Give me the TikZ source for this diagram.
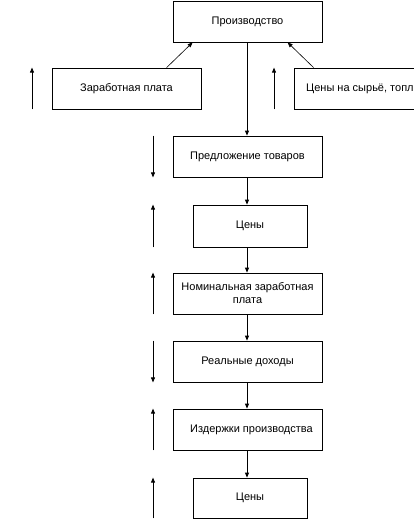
\documentclass[tikz,border=0pt]{standalone}
\usepackage{fontspec}
\setmainfont{Liberation Sans}
\usetikzlibrary{arrows.meta}
\begin{document}
\begin{tikzpicture}[x=1pt,y=-1pt,
  box/.style={draw, line width=0.8pt, inner sep=0pt, align=center, font=\fontsize{11}{13}\selectfont},
  wide/.style={box, minimum width=149pt, minimum height=41pt},
  narrow/.style={box, minimum width=114pt, minimum height=41pt},
  arr/.style={line width=0.8pt, -{Triangle[length=5pt,width=4pt]}},
  thinarr/.style={line width=0.6pt, -{Triangle[length=5pt,width=4pt]}}]
\useasboundingbox (0,0) rectangle (414,528);
\clip (0,0) rectangle (414,528);
\coordinate (c) at (247,0);
\coordinate (ax) at (153,0);
\coordinate (lx) at (32,0);
\coordinate (rx) at (274,0);

\node[wide] (p) at (247.5,21.5) {Производство};
\node[wide] (z) at (126.5,88.5) {Заработная плата};
\node[wide] (r) at (368.5,88.5) {};
\node[anchor=west, inner sep=0pt, font=\fontsize{11}{13}\selectfont] (rt) at (306,88.5) {Цены на сырьё, топл};
\node[wide] (s) at (247.5,156.5) {Предложение товаров};
\node[narrow, minimum height=42pt] (c1) at (250,226) {Цены};
\node[wide] (n) at (247.5,293.5) {Номинальная заработная\\плата};
\node[wide] (d) at (247.5,361.5) {Реальные доходы};
\node[wide] (i) at (247.5,429.5) {\hspace{8pt}Издержки производства};
\node[narrow, minimum height=40pt] (c2) at (250,498) {Цены};

% main chain
\draw[arr] (p.south -| c) -- (s.north -| c);
\draw[arr] (s.south -| c) -- (c1.north -| c);
\draw[arr] (c1.south -| c) -- (n.north -| c);
\draw[arr] (n.south -| c) -- (d.north -| c);
\draw[arr] (d.south -| c) -- (i.north -| c);
\draw[arr] (i.south -| c) -- (c2.north -| c);

% diagonal inputs
\draw[thinarr] ([xshift=115pt]z.north west) -- ([xshift=20pt]p.south west);
\draw[thinarr] ([xshift=20pt]r.north west) -- ([xshift=115pt]p.south west);

% side arrows
\draw[arr] (lx |- z.south) -- (lx |- z.north);
\draw[arr] (rx |- z.south) -- (rx |- z.north);
\draw[arr] (ax |- s.north) -- (ax |- s.south);
\draw[arr] (ax |- c1.south) -- (ax |- c1.north);
\draw[arr] (ax |- n.south) -- (ax |- n.north);
\draw[arr] (ax |- d.north) -- (ax |- d.south);
\draw[arr] (ax |- i.south) -- (ax |- i.north);
\draw[arr] (ax |- c2.south) -- (ax |- c2.north);
\end{tikzpicture}
\end{document}
